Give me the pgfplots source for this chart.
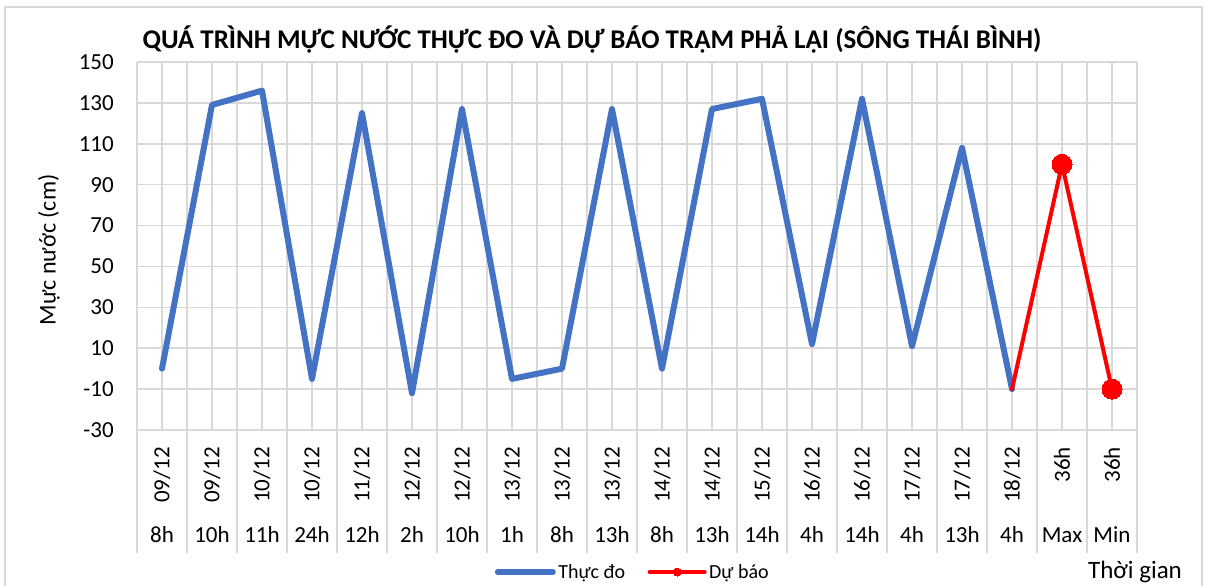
\documentclass[border=0pt]{standalone}
\usepackage{pgfplots}
\pgfplotsset{compat=1.18}
\usepackage{fontspec}
\setmainfont{Carlito}
\definecolor{exblue}{HTML}{4472C4}
\definecolor{grd}{HTML}{D9D9D9}
\begin{document}
\begin{tikzpicture}[x=1pt,y=1pt]
\useasboundingbox (0,0) rectangle (1207,586);
\draw[grd, line width=1.5pt] (5,0) -- (5,579) -- (1202,579) -- (1202,0);
\node[anchor=base, font=\bfseries\fontsize{27}{31}\selectfont] at (592,537) {QUÁ TRÌNH MỰC NƯỚC THỰC ĐO VÀ DỰ BÁO TRẠM PHẢ LẠI (SÔNG THÁI BÌNH)};
\node[rotate=90, font=\fontsize{24}{28}\selectfont] at (49,336) {Mực nước (cm)};
\node[font=\fontsize{25}{29}\selectfont] at (1135,14) {Thời gian};
\begin{axis}[
  at={(137pt,156pt)}, anchor=south west,
  scale only axis, width=1000pt, height=368pt,
  xmin=-0.5, xmax=19.5, ymin=-30, ymax=150,
  ytick={-30,-10,...,150},
  xtick={0,...,19},
  xticklabels={\rotatebox{90}{09/12},\rotatebox{90}{09/12},\rotatebox{90}{10/12},\rotatebox{90}{10/12},\rotatebox{90}{11/12},\rotatebox{90}{12/12},\rotatebox{90}{12/12},\rotatebox{90}{13/12},\rotatebox{90}{13/12},\rotatebox{90}{13/12},\rotatebox{90}{14/12},\rotatebox{90}{14/12},\rotatebox{90}{15/12},\rotatebox{90}{16/12},\rotatebox{90}{16/12},\rotatebox{90}{17/12},\rotatebox{90}{17/12},\rotatebox{90}{18/12},\rotatebox{90}{36h},\rotatebox{90}{36h}},
  minor xtick={-0.5,0.5,...,19.5},
  xmajorgrids, xminorgrids, ymajorgrids,
  grid style={grd, line width=1.5pt},
  minor grid style={grd, line width=1.5pt},
  axis line style={draw=none},
  major tick length=0pt, minor tick length=123pt,
  tick align=outside, tick pos=left,
  minor tick style={grd, line width=1.5pt},
  xticklabel style={anchor=north, inner sep=0pt, yshift=-17pt, font=\fontsize{23}{27}\selectfont},
  yticklabel style={anchor=east, inner sep=0pt, xshift=-23pt, font=\fontsize{23}{27}\selectfont},
  /pgf/number format/assume math mode=true,
  extra x ticks={0,...,19},
  extra x tick labels={8h,10h,11h,24h,12h,2h,10h,1h,8h,13h,8h,13h,14h,4h,14h,4h,13h,4h,Max,Min},
  extra x tick style={grid=none, xticklabel style={anchor=base, yshift=-96pt}},
  legend columns=2,
  legend style={at={(axis description cs:0.496,0)}, anchor=center, yshift=-142pt, draw=none,
    font=\fontsize{20}{24}\selectfont, inner sep=0pt,
    /tikz/every odd column/.append style={column sep=0pt},
    /tikz/every even column/.append style={column sep=20pt},
    nodes={inner sep=2.5pt}},
  legend image code/.code={\draw[mark repeat=2,mark phase=2,mark indices={2},mark size=4pt,#1] plot coordinates {(0pt,0pt) (27.5pt,0pt) (55pt,0pt)};},
  clip=false,
]
\addplot[exblue, line width=6pt, line join=round, line cap=round] table {
x y
0 0
1 129
2 136
3 -5
4 125
5 -12
6 127
7 -5
8 0
9 127
10 0
11 127
12 132
13 12
14 132
15 11
16 108
17 -10
};
\addlegendentry{Thực đo}
\addplot[red, line width=4pt, line join=round, line cap=round, mark=*, mark size=10pt, mark indices={2,3}, mark options={line width=0pt}] table {
x y
17 -10
18 100
19 -10
};
\addlegendentry{Dự báo}
\end{axis}
\end{tikzpicture}
\end{document}
